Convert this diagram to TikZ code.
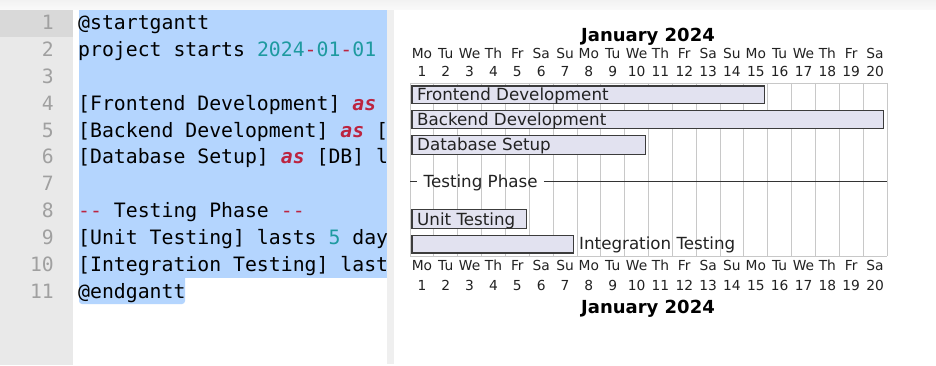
\documentclass[tikz,border=0pt]{standalone}
\usepackage{fontspec}
\setmainfont{DejaVu Sans}
\newfontfamily\codefont{DejaVu Sans Mono}
\definecolor{guttergray}{HTML}{E9E9E9}
\definecolor{gutterhl}{HTML}{D9D9D9}
\definecolor{numgray}{HTML}{A0A0A0}
\definecolor{selblue}{HTML}{B4D5FE}
\definecolor{tealc}{HTML}{1E9AA0}
\definecolor{redc}{HTML}{BC2440}
\definecolor{barfill}{HTML}{E2E2F0}
\definecolor{barline}{HTML}{3C3C3C}
\definecolor{gridc}{HTML}{C8C8C8}
\definecolor{divc}{HTML}{EFEFEF}
\definecolor{txt}{HTML}{222222}
\newcommand{\kw}[1]{\textcolor{redc}{\bfseries\itshape #1}}
\newcommand{\nm}[1]{\textcolor{tealc}{#1}}
\newcommand{\rd}[1]{\textcolor{redc}{#1}}
\tikzset{
  codeline/.style={anchor=base west, inner sep=0pt, text=black, font={\codefont\fontsize{19.8}{22}\selectfont}},
  lnum/.style={anchor=base east, inner sep=0pt, text=numgray, font={\codefont\fontsize{19.7}{22}\selectfont}},
  dayname/.style={anchor=base, inner sep=0pt, text=txt, font={\fontsize{13.8}{15}\selectfont}},
  title/.style={anchor=base, inner sep=0pt, font={\bfseries\fontsize{18}{20}\selectfont}},
  bartext/.style={anchor=base west, inner sep=0pt, text=txt, font={\fontsize{16.7}{18}\selectfont}},
  bar/.style={draw=barline, fill=barfill, line width=1.5pt},
  gridline/.style={draw=gridc, line width=0.9pt},
  sepline/.style={draw=black!80, line width=1pt}
}
\begin{document}
\begin{tikzpicture}[x=1pt,y=-1pt]
\useasboundingbox (0,0) rectangle (936,366);
\fill[white] (0,0) rectangle (936,366);
% top shadow
\shade[top color=black!5, bottom color=black!2] (0,0) rectangle (936,10);
% gutter
\fill[guttergray] (0,10) rectangle (73,365);
\fill[gutterhl] (0,10) rectangle (73,37);
% divider
\fill[divc] (387,10) rectangle (394,364);
% selection
\fill[selblue] (79,10) rectangle (387,278);
\fill[selblue, rounded corners=3pt] (79,270) -- (185,270) -- (185,304) -- (79,304) -- cycle;
\fill[selblue] (79,270) rectangle (185,280);
% line numbers
\foreach \i in {1,...,11}{
  \node[lnum] (n\i) at (54,{30+26.8*(\i-1)}) {\i};
}
% code
\begin{scope}
\clip (73,0) rectangle (387,366);
\node[codeline] (l1) at (78,30) {@startgantt};
\node[codeline] (l2) at (78,56.8) {project starts \nm{2024}\rd{-}\nm{01}\rd{-}\nm{01}};
\node[codeline] (l4) at (78,110.4) {[Frontend Development] \kw{as} [};
\node[codeline] (l5) at (78,137.2) {[Backend Development] \kw{as} [B};
\node[codeline] (l6) at (78,164) {[Database Setup] \kw{as} [DB] la};
\node[codeline] (l8) at (78,217.6) {\rd{--} Testing Phase \rd{--}};
\node[codeline] (l9) at (78,244.4) {[Unit Testing] lasts \nm{5} days};
\node[codeline] (l10) at (78,271.2) {[Integration Testing] lasts};
\node[codeline] (l11) at (78,298) {@endgantt};
\end{scope}
% gantt grid
\foreach \i in {0,...,20}{
  \draw[gridline] ({410+\i*23.85},83) -- ({410+\i*23.85},256);
}
\draw[gridline] (410,83) -- (887,83);
\draw[gridline] (410,256) -- (887,256);
% titles
\node[title] (ttop) at (648,41.5) {January 2024};
\node[title] (tbot) at (648,313.5) {January 2024};
% day labels
\foreach \n [count=\i] in {Mo,Tu,We,Th,Fr,Sa,Su,Mo,Tu,We,Th,Fr,Sa,Su,Mo,Tu,We,Th,Fr,Sa}{
  \node[dayname] (dt\i) at ({410+(\i-0.5)*23.85},59) {\n};
  \node[dayname] (nt\i) at ({410+(\i-0.5)*23.85},77) {\i};
  \node[dayname] (db\i) at ({410+(\i-0.5)*23.85},270.5) {\n};
  \node[dayname] (nb\i) at ({410+(\i-0.5)*23.85},290.5) {\i};
}
% bars
\draw[bar] (412,86) rectangle (764.5,103.5);
\node[bartext] (fd) at (417,100.5) {Frontend Development};
\draw[bar] (412,110.5) rectangle (883.5,128.5);
\node[bartext] (bd) at (417,125.5) {Backend Development};
\draw[bar] (412,135.5) rectangle (645.5,154.5);
\node[bartext] (dbs) at (417,151) {Database Setup};
% separator
\node[bartext] (tp) at (423.5,188) {Testing Phase};
\coordinate (sl) at (410,182);
\coordinate (sr) at (887,182);
\draw[sepline] (sl) -- (417,182);
\draw[sepline] (tp.east |- sr) ++(6,0) -- (sr);
% testing bars
\draw[bar] (412,209.5) rectangle (526.5,228.5);
\node[bartext] (ut) at (417,225) {Unit Testing};
\draw[bar] (412,235.5) rectangle (573.5,253);
\node[bartext] (it) at (579,249) {Integration Testing};
\end{tikzpicture}
\end{document}
